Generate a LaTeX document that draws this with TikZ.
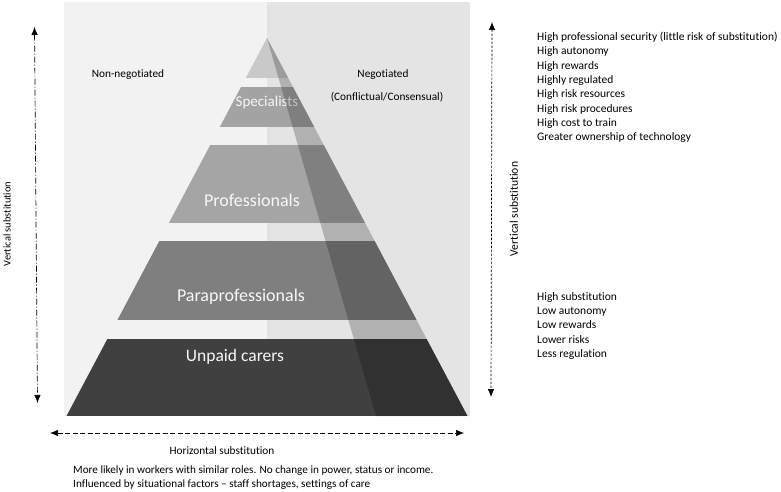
\documentclass[tikz,border=0pt]{standalone}
\usepackage{fontspec}
\setmainfont{Carlito}[Ligatures={NoCommon}]
\usetikzlibrary{arrows.meta}
\definecolor{leftpanel}{HTML}{F2F2F2}
\definecolor{rightpanel}{HTML}{E4E4E4}
\definecolor{topband}{HTML}{C9C9C9}
\definecolor{specband}{HTML}{A3A3A3}
\definecolor{profband}{HTML}{A5A5A5}
\definecolor{parband}{HTML}{7F7F7F}
\definecolor{unpband}{HTML}{404040}
\definecolor{bandtext}{HTML}{F7F7F7}
\tikzset{
  lbl/.style={inner sep=0pt, font=\fontsize{11.3}{13}\selectfont},
  listtxt/.style={inner sep=0pt, anchor=north west, align=left, font=\fontsize{11.5}{14.3}\selectfont},
  bandlbl/.style={inner sep=0pt, text=bandtext},
  bothtips/.style={{Latex[length=8pt,width=6.5pt]}-{Latex[length=8pt,width=6.5pt]}, line width=0.7pt},
}
\begin{document}
\begin{tikzpicture}[x=1pt,y=-1pt]
\useasboundingbox (0,0) rectangle (781,492);
\fill[white] (0,0) rectangle (781,492);
% panels
\fill[leftpanel] (64,2) rectangle (267,416);
\fill[rightpanel] (267,2) rectangle (470,416);
% pyramid bands
\begin{scope}
  \clip (267,38) -- (467.5,416) -- (66.5,416) -- cycle;
  \fill[topband] (60,38) rectangle (470,78);
  \fill[specband] (60,87) rectangle (470,127);
  \fill[profband] (60,145) rectangle (470,223);
  \fill[parband] (60,240.5) rectangle (470,320);
  \fill[unpband] (60,339) rectangle (470,416);
\end{scope}
% band labels
\node[bandlbl, font=\fontsize{15}{17}\selectfont] (spec) at (267,103) {Specialists};
\node[bandlbl, font=\fontsize{18}{20}\selectfont] (prof) at (252,200) {Professionals};
\node[bandlbl, font=\fontsize{18}{20}\selectfont] (para) at (241,297) {Paraprofessionals};
\node[bandlbl, font=\fontsize{17.5}{20}\selectfont] (unp) at (235,357) {Unpaid carers};
% overlay
\fill[black, opacity=0.22] (267,38) -- (376,416) -- (467.5,416) -- cycle;
% panel labels
\node[lbl] (nonneg) at (128,75) {Non-negotiated};
\node[lbl] (neg) at (383,75) {Negotiated};
\node[lbl] (conf) at (387,97) {(Conflictual/Consensual)};
% left vertical arrow
\coordinate (lt) at (34.5,27);
\coordinate (lb) at (37.5,403);
\draw[bothtips, dash pattern=on 6pt off 2pt on 1pt off 2pt] (lt) -- (lb);
\node[lbl, rotate=90, font=\fontsize{10.4}{12}\selectfont] (lvs) at (7,224) {Vertical substitution};
% right vertical arrow
\coordinate (rt) at (492,22);
\coordinate (rb) at (491,397);
\draw[bothtips, dash pattern=on 2.5pt off 1.5pt] (rt) -- (rb);
\node[lbl, rotate=90, font=\fontsize{11.6}{13}\selectfont] (rvs) at (514,209) {Vertical substitution};
% right lists
\node[listtxt] (hilist) at (537,32) {High professional security (little risk of substitution)\\High autonomy\\High rewards\\Highly regulated\\High risk resources\\High risk procedures\\High cost to train\\Greater ownership of technology};
\node[listtxt] (lolist) at (537,292) {High substitution\\Low autonomy\\Low rewards\\Lower risks\\Less regulation};
% horizontal arrow
\coordinate (hl) at (50,433);
\coordinate (hr) at (464,433);
\draw[bothtips, dash pattern=on 5pt off 2.5pt] (hl) -- (hr);
\node[lbl] (hs) at (222,451) {Horizontal substitution};
\node[listtxt, font=\fontsize{11.2}{14}\selectfont] (bottomtxt) at (73,466) {More likely in workers with similar roles. No change in power, status or income.\\Influenced by situational factors -- staff shortages, settings of care};
\end{tikzpicture}
\end{document}
